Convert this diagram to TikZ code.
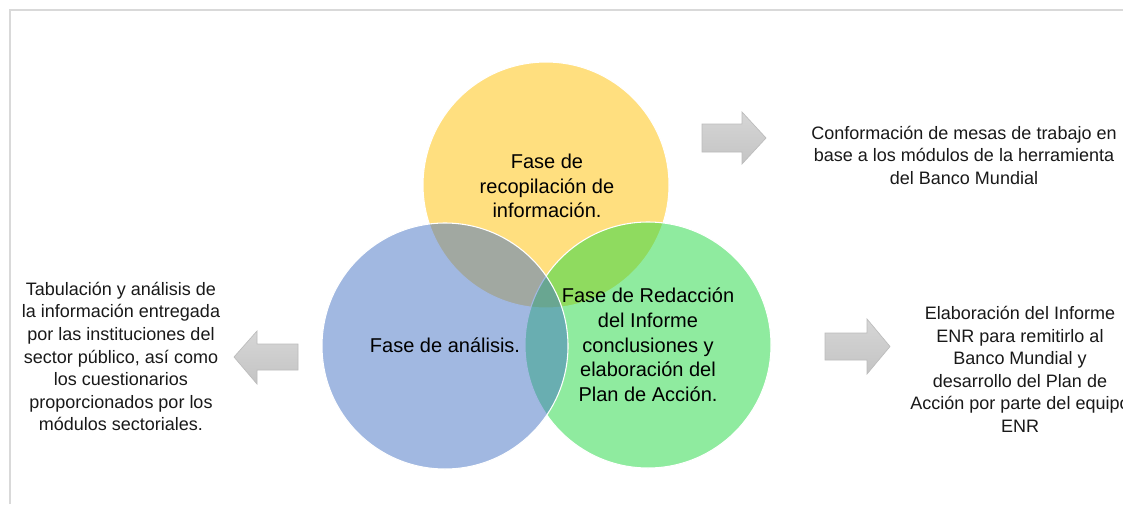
\documentclass[tikz,border=0pt]{standalone}
\usepackage{fontspec}
\setmainfont{Liberation Sans}
\definecolor{vyellow}{RGB}{255,192,0}
\definecolor{vgreen}{RGB}{33,217,65}
\definecolor{vblue}{RGB}{68,114,196}
\definecolor{framecol}{RGB}{217,217,217}
\definecolor{arrowtop}{RGB}{214,214,214}
\definecolor{arrowbot}{RGB}{196,196,196}
\definecolor{arrowline}{RGB}{188,188,188}
\definecolor{sidetext}{RGB}{25,25,25}
\tikzset{
  venn/.style={circle, draw=white, line width=0.8pt, fill opacity=0.5, minimum size=184.5pt, inner sep=0pt},
  phasetext/.style={align=center, font=\fontsize{15}{18.5}\selectfont, text=black, inner sep=0pt},
  sidenote/.style={align=center, font=\fontsize{13.5}{16.9}\selectfont, text=sidetext, inner sep=0pt},
  blockarrow/.style={draw=arrowline, line width=0.5pt, top color=arrowtop, bottom color=arrowbot},
}
\begin{document}
\begin{tikzpicture}[x=0.75pt, y=-0.75pt]
\useasboundingbox (0,0) rectangle (1123,504);
\fill[white] (0,0) rectangle (1123,504);
% frame
\coordinate (f1) at (10,504);
\coordinate (f2) at (10,10);
\coordinate (f3) at (1123,10);
\draw[framecol, line width=1.5pt] (f1) -- (f2) -- (f3);
% circles
\node[venn, fill=vyellow] (yc) at (546,185) {};
\node[venn, fill=vgreen] (gc) at (648,345) {};
\node[venn, fill=vblue] (bc) at (445,346) {};
% circle texts
\node[phasetext] (yt) at (547,186) {Fase de\\recopilación de\\información.};
\node[phasetext] (bt) at (445,345) {Fase de análisis.};
\node[phasetext] (gt) at (648,345) {Fase de Redacción\\del Informe\\conclusiones y\\elaboración del\\Plan de Acción.};
% side notes
\node[sidenote] (tr) at (964,155) {Conformación de mesas de trabajo en\\base a los módulos de la herramienta\\del Banco Mundial};
\node[sidenote] (lt) at (121,356.5) {Tabulación y análisis de\\la información entregada\\por las instituciones del\\sector público, así como\\los cuestionarios\\proporcionados por los\\módulos sectoriales.};
\node[sidenote] (br) at (1020,369.5) {Elaboración del Informe\\ENR para remitirlo al\\Banco Mundial y\\desarrollo del Plan de\\Acción por parte del equipo\\ENR};
% block arrows
\draw[blockarrow] (702,124) -- (742,124) -- (742,112) -- (766,138) -- (742,164) -- (742,152) -- (702,152) -- cycle;
\draw[blockarrow] (825,333) -- (867,333) -- (867,319) -- (890,346.5) -- (867,374) -- (867,360) -- (825,360) -- cycle;
\draw[blockarrow] (298,344) -- (257,344) -- (257,331) -- (234,357) -- (257,384) -- (257,370) -- (298,370) -- cycle;
\end{tikzpicture}
\end{document}
